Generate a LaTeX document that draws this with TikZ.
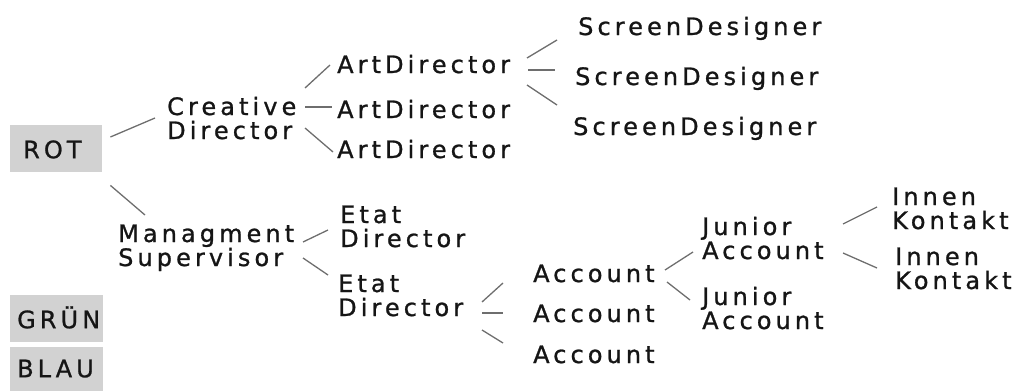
\documentclass[tikz,border=0pt]{standalone}
\usepackage{fontspec}
\setmainfont{DejaVu Sans}[LetterSpace=17,FakeBold=1]
\definecolor{boxgray}{HTML}{D2D2D2}
\definecolor{linegray}{HTML}{6E6E6E}
\definecolor{ink}{HTML}{151515}
\newcommand{\twoline}[2]{\vtop{\baselineskip=24pt\hbox{#1}\hbox{#2}}}
\begin{document}
\begin{tikzpicture}[x=1pt,y=-1pt,
  lbl/.style={inner sep=0pt,anchor=base west,text=ink,font=\fontsize{24}{24}\selectfont},
  colbox/.style={fill=boxgray,draw=none,anchor=north west,inner ysep=0pt,align=left,
     text height=33pt,text depth=14pt,text=ink,font=\fontsize{24}{24}\selectfont},
  conn/.style={draw=linegray,line width=1.3pt}]
\useasboundingbox (0,0) rectangle (1016,391);
% colour boxes
\node[colbox,inner xsep=13pt,text width=66pt] (rot) at (10,125) {ROT};
\node[colbox,inner xsep=7pt,text width=79pt] (grun) at (10,295) {GRÜN};
\node[colbox,inner xsep=7pt,text width=79pt,text height=30pt] (blau) at (10,347) {BLAU};
% labels
\node[lbl] (cd) at (167,115) {\twoline{Creative}{Director}};
\node[lbl] (ms) at (118,242) {\twoline{Managment}{Supervisor}};
\node[lbl] (ad1) at (337,73) {ArtDirector};
\node[lbl] (ad2) at (337,118) {ArtDirector};
\node[lbl] (ad3) at (337,158) {ArtDirector};
\node[lbl] (sd1) at (578,35) {ScreenDesigner};
\node[lbl] (sd2) at (575,85) {ScreenDesigner};
\node[lbl] (sd3) at (573,135) {ScreenDesigner};
\node[lbl] (ed1) at (340,223) {\twoline{Etat}{Director}};
\node[lbl] (ed2) at (338,292) {\twoline{Etat}{Director}};
\node[lbl] (ac1) at (533,282) {Account};
\node[lbl] (ac2) at (533,322) {Account};
\node[lbl] (ac3) at (533,363) {Account};
\node[lbl] (ja1) at (702,235) {\twoline{Junior}{Account}};
\node[lbl] (ja2) at (702,305) {\twoline{Junior}{Account}};
\node[lbl] (ik1) at (892,205) {\twoline{Innen}{Kontakt}};
\node[lbl] (ik2) at (895,265) {\twoline{Innen}{Kontakt}};
% connectors
\draw[conn] ([shift={(8,12)}]rot.north east) -- ([shift={(-12,3)}]cd.base west);
\draw[conn] ([shift={(8,13)}]rot.south east) -- ([shift={(27,-27)}]ms.base west);
\draw[conn] ([shift={(138,-27)}]cd.base west) -- ([shift={(-7,-8)}]ad1.base west);
\draw[conn] ([shift={(138,-8)}]cd.base west) -- ([shift={(-5,-11)}]ad2.base west);
\draw[conn] ([shift={(138,13)}]cd.base west) -- ([shift={(-4,-6)}]ad3.base west);
\draw[conn] ([shift={(190,-15)}]ad1.base west) -- ([shift={(-21,5)}]sd1.base west);
\draw[conn] ([shift={(191,-3)}]ad1.base west) -- ([shift={(-20,-15)}]sd2.base west);
\draw[conn] ([shift={(190,12)}]ad1.base west) -- ([shift={(-16,-30)}]sd3.base west);
\draw[conn] ([shift={(185,0)}]ms.base west) -- ([shift={(-12,7)}]ed1.base west);
\draw[conn] ([shift={(185,16)}]ms.base west) -- ([shift={(-10,-17)}]ed2.base west);
\draw[conn] ([shift={(144,10)}]ed2.base west) -- ([shift={(-30,1)}]ac1.base west);
\draw[conn] ([shift={(144,21)}]ed2.base west) -- ([shift={(-30,-9)}]ac2.base west);
\draw[conn] ([shift={(144,38)}]ed2.base west) -- ([shift={(-30,-20)}]ac3.base west);
\draw[conn] ([shift={(132,-12)}]ac1.base west) -- ([shift={(-9,17)}]ja1.base west);
\draw[conn] ([shift={(134,0)}]ac1.base west) -- ([shift={(-12,-5)}]ja2.base west);
\draw[conn] ([shift={(141,-11)}]ja1.base west) -- ([shift={(-15,2)}]ik1.base west);
\draw[conn] ([shift={(141,18)}]ja1.base west) -- ([shift={(-18,3)}]ik2.base west);
\end{tikzpicture}
\end{document}
